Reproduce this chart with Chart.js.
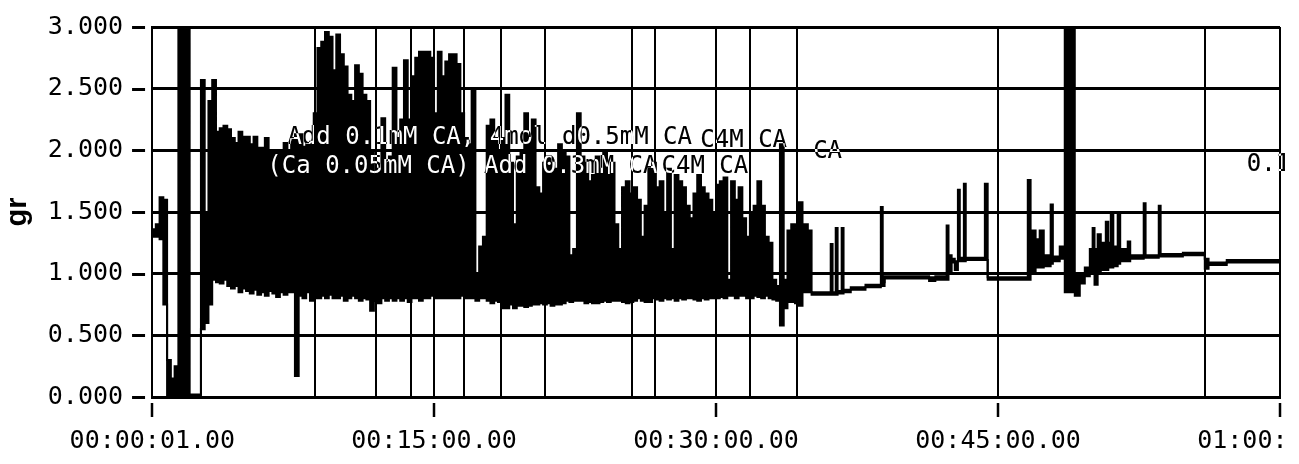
<!DOCTYPE html>
<html>
<head>
<meta charset="utf-8">
<title>gr trace</title>
<style>
  html, body { margin: 0; padding: 0; background: #fff; }
  #wrap { width: 1285px; height: 464px; position: relative; }
</style>
</head>
<body>
<div id="wrap"><canvas id="trace"></canvas></div>
<script src="https://cdn.jsdelivr.net/npm/chart.js@4/dist/chart.umd.min.js"></script>
<script>
// Force trace (gr). First part read as 12 s min/max bins, the quiet tail as breakpoints.
const binSeconds = 12;
const binLo = [
  1.30, 1.30, 1.28, 0.75, 0, 0, 0, 0, 0, 0,
  0, 0, 0, 0.55, 0.60, 0.75, 0.95, 0.93, 0.92, 0.95,
  0.90, 0.88, 0.90, 0.85, 0.88, 0.86, 0.84, 0.87, 0.83, 0.85,
  0.82, 0.86, 0.84, 0.81, 0.85, 0.83, 0.85, 0.85, 0.17, 0.82,
  0.80, 0.85, 0.78, 0.80, 0.80, 0.82, 0.80, 0.83, 0.80, 0.80,
  0.82, 0.78, 0.80, 0.82, 0.80, 0.78, 0.80, 0.79, 0.70, 0.78,
  0.76, 0.80, 0.78, 0.80, 0.78, 0.80, 0.78, 0.80, 0.77, 0.80,
  0.80, 0.78, 0.80, 0.80, 0.82, 0.80, 0.80, 0.80, 0.80, 0.80,
  0.80, 0.80, 0.82, 0.80, 0.80, 0.80, 0.78, 0.80, 0.80, 0.78,
  0.76, 0.78, 0.77, 0.72, 0.72, 0.75, 0.72, 0.74, 0.74, 0.73,
  0.74, 0.75, 0.75, 0.76, 0.75, 0.76, 0.74, 0.75, 0.75, 0.76,
  0.78, 0.77, 0.78, 0.78, 0.78, 0.76, 0.77, 0.76, 0.76, 0.77,
  0.78, 0.77, 0.78, 0.78, 0.78, 0.77, 0.76, 0.77, 0.78, 0.80,
  0.78, 0.77, 0.77, 0.80, 0.79, 0.78, 0.80, 0.79, 0.80, 0.78,
  0.80, 0.79, 0.80, 0.80, 0.79, 0.78, 0.80, 0.79, 0.80, 0.80,
  0.80, 0.81, 0.80, 0.82, 0.82, 0.80, 0.82, 0.82, 0.80, 0.80,
  0.82, 0.81, 0.80, 0.82, 0.80, 0.79, 0.78, 0.58, 0.72, 0.77,
  0.77, 0.76
];
const binHi = [
  1.36, 1.40, 1.62, 1.60, 0.30, 0.15, 0.25, 3.00, 3.00, 3.00,
  0.02, 0.02, 0.02, 2.57, 1.50, 2.40, 2.57, 2.15, 2.18, 2.20,
  2.17, 2.10, 2.06, 2.15, 2.11, 2.11, 2.05, 2.11, 2.02, 2.02,
  2.10, 2.00, 2.00, 2.00, 2.00, 2.06, 2.00, 2.09, 2.13, 2.13,
  2.03, 2.05, 2.07, 2.30, 2.83, 2.88, 2.96, 2.92, 2.65, 2.94,
  2.78, 2.68, 2.45, 2.40, 2.69, 2.62, 2.45, 2.40, 2.00, 1.80,
  1.85, 2.26, 1.90, 1.95, 2.67, 2.10, 2.25, 2.73, 2.25, 2.60,
  2.75, 2.80, 2.80, 2.80, 2.75, 2.30, 2.80, 2.60, 2.72, 2.78,
  2.78, 2.70, 2.30, 2.10, 2.05, 2.50, 1.00, 1.22, 1.30, 2.20,
  2.25, 2.10, 2.00, 2.10, 2.45, 1.90, 1.40, 1.95, 2.00, 2.30,
  2.10, 2.25, 1.70, 1.65, 1.90, 1.95, 1.90, 1.85, 2.05, 2.00,
  1.95, 1.15, 1.20, 2.30, 1.95, 1.90, 1.75, 1.80, 1.95, 1.85,
  2.00, 1.80, 1.90, 1.40, 1.20, 1.70, 1.75, 1.65, 1.70, 1.60,
  1.30, 1.55, 1.85, 1.90, 1.70, 1.75, 1.50, 1.85, 1.20, 1.80,
  1.75, 1.70, 1.55, 1.45, 1.65, 1.80, 1.70, 1.65, 1.60, 1.50,
  1.72, 1.75, 1.78, 0.95, 1.75, 1.60, 1.70, 1.45, 1.30, 1.50,
  1.55, 1.75, 1.55, 1.30, 1.25, 0.95, 0.90, 2.05, 0.95, 1.35,
  1.40, 1.35
];
const tailT = [
  2064, 2076, 2093, 2105, 2166, 2172, 2182, 2188, 2201, 2207,
  2230, 2277, 2326, 2332, 2338, 2450, 2480, 2500, 2536, 2542,
  2552, 2562, 2572, 2578, 2591, 2597, 2658, 2667, 2795, 2804,
  2820, 2833, 2846, 2868, 2875, 2897, 2913, 2945, 2961, 2977,
  2993, 3002, 3008, 3018, 3028, 3044, 3052, 3060, 3068, 3082,
  3090, 3114, 3122, 3165, 3171, 3213, 3219, 3290, 3360, 3372,
  3430, 3600
];
const tailLo = [
  0.74, 0.85, 0.85, 0.83, 0.83, 0.83, 0.83, 0.84, 0.84, 0.85,
  0.87, 0.89, 0.90, 0.90, 0.96, 0.96, 0.94, 0.95, 0.95, 1.00,
  1.09, 1.03, 1.10, 1.10, 1.10, 1.11, 1.11, 0.95, 0.95, 1.00,
  1.05, 1.05, 1.06, 1.08, 1.10, 1.12, 0.85, 0.82, 0.92, 0.98,
  1.00, 1.00, 0.91, 1.02, 1.03, 1.03, 1.05, 1.05, 1.06, 1.08,
  1.10, 1.10, 1.12, 1.13, 1.13, 1.14, 1.14, 1.15, 1.04, 1.07,
  1.09, 1.09
];
const tailHi = [
  1.58, 1.40, 1.35, 0.85, 1.24, 0.85, 1.37, 0.86, 1.37, 0.87,
  0.89, 0.91, 1.54, 0.93, 0.98, 0.98, 0.97, 0.98, 1.39, 1.15,
  1.12, 1.10, 1.68, 1.13, 1.73, 1.13, 1.73, 0.97, 1.76, 1.35,
  1.28, 1.35, 1.15, 1.56, 1.14, 1.22, 3.00, 1.00, 1.00, 1.05,
  1.20, 1.37, 1.20, 1.32, 1.25, 1.42, 1.25, 1.50, 1.22, 1.50,
  1.20, 1.26, 1.15, 1.57, 1.15, 1.55, 1.16, 1.17, 1.12, 1.09,
  1.11, 1.11
];

const xTicks = [1, 900, 1800, 2700, 3600];
const xTickLabels = ["00:00:01.00", "00:15:00.00", "00:30:00.00", "00:45:00.00", "01:00:00.00"];
const yTicks = [0, 0.5, 1, 1.5, 2, 2.5, 3];
// comment markers (s) and their texts
const markerT = [521, 716, 825, 997, 1115, 1253, 1531, 1604, 1908, 2060, 3360];
const commentT = [432, 1750, 2110, 368, 1626, 3494];
const commentV = [2.10, 2.08, 1.99, 1.87, 1.87, 1.88];
const commentText = [
  "Add 0.1mM CA, 4mol d0.5mM CA",
  "C4M CA",
  "CA",
  "(Ca 0.05mM CA) Add 0.3mM CA",
  "C4M CA",
  "0.1mM CA"
];

const mono = { family: "'DejaVu Sans Mono', monospace", size: 25 };

function buildSeries(bins, tail) {
  const pts = bins.map((v, i) => ({ x: i * binSeconds, y: v }));
  tailT.forEach((t, i) => pts.push({ x: t, y: tail[i] }));
  return pts;
}

const paper = {
  id: "paper",
  beforeDraw(chart) {
    const { ctx, width, height } = chart;
    ctx.save();
    ctx.fillStyle = "#fff";
    ctx.fillRect(0, 0, width, height);
    ctx.restore();
  }
};

const markers = {
  id: "markers",
  beforeDatasetsDraw(chart) {
    const { ctx, chartArea, scales } = chart;
    ctx.save();
    ctx.strokeStyle = "#000";
    ctx.lineWidth = 2;
    markerT.forEach(t => {
      const x = Math.round(scales.x.getPixelForValue(t));
      ctx.beginPath();
      ctx.moveTo(x, chartArea.top);
      ctx.lineTo(x, chartArea.bottom);
      ctx.stroke();
    });
    ctx.restore();
  },
  afterDraw(chart) {
    // short tick marks, set off from the frame
    const { ctx, chartArea, scales } = chart;
    ctx.save();
    ctx.strokeStyle = "#000";
    ctx.lineWidth = 3;
    yTicks.forEach(v => {
      const y = Math.round(scales.y.getPixelForValue(v)) + 0.5;
      ctx.beginPath();
      ctx.moveTo(chartArea.left - 20, y);
      ctx.lineTo(chartArea.left - 7, y);
      ctx.stroke();
    });
    ctx.lineWidth = 2.5;
    xTicks.forEach(t => {
      const x = Math.round(scales.x.getPixelForValue(t));
      ctx.beginPath();
      ctx.moveTo(x, chartArea.bottom + 6);
      ctx.lineTo(x, chartArea.bottom + 20);
      ctx.stroke();
    });
    ctx.restore();
  }
};

const comments = {
  id: "comments",
  afterDraw(chart) {
    const { ctx, scales } = chart;
    ctx.save();
    ctx.globalCompositeOperation = "difference";
    ctx.fillStyle = "#fff";
    ctx.font = "24px 'DejaVu Sans Mono', monospace";
    ctx.textBaseline = "middle";
    ctx.textAlign = "left";
    commentText.forEach((txt, i) => {
      ctx.fillText(txt, scales.x.getPixelForValue(commentT[i]), scales.y.getPixelForValue(commentV[i]));
    });
    ctx.restore();
  }
};

new Chart(document.getElementById("trace"), {
  type: "line",
  data: {
    datasets: [
      {
        label: "max",
        data: buildSeries(binHi, tailHi),
        borderColor: "#000",
        backgroundColor: "#000",
        borderWidth: 2,
        pointRadius: 0,
        stepped: true,
        fill: "+1"
      },
      {
        label: "min",
        data: buildSeries(binLo, tailLo),
        borderColor: "#000",
        borderWidth: 2,
        pointRadius: 0,
        stepped: true,
        fill: false
      }
    ]
  },
  options: {
    responsive: true,
    maintainAspectRatio: false,
    animation: false,
    events: [],
    layout: { padding: { left: 0, right: 5, top: 18, bottom: 1 } },
    plugins: { legend: { display: false }, tooltip: { enabled: false } },
    scales: {
      x: {
        type: "linear",
        min: 0,
        max: 3600,
        afterBuildTicks: s => { s.ticks = xTicks.map(v => ({ value: v })); },
        afterFit: s => { s.paddingLeft = 0; s.paddingRight = 0; },
        ticks: {
          autoSkip: false,
          maxRotation: 0,
          padding: 7,
          color: "#000",
          font: mono,
          callback: (v, i) => xTickLabels[i]
        },
        grid: { color: "#000", lineWidth: 2, tickLength: 22, tickColor: "rgba(0,0,0,0)" },
        border: { color: "#000", width: 3 }
      },
      y: {
        min: 0,
        max: 3,
        afterBuildTicks: s => { s.ticks = yTicks.map(v => ({ value: v })); },
        ticks: {
          padding: 12,
          color: "#000",
          font: mono,
          callback: v => v.toFixed(3)
        },
        grid: { color: "#000", lineWidth: 3, tickLength: 17, tickColor: "rgba(0,0,0,0)" },
        border: { color: "#000", width: 2 },
        title: {
          display: true,
          text: "gr",
          color: "#000",
          font: { family: "'Liberation Sans', Arial, sans-serif", size: 29, weight: "bold" },
          padding: { top: 1, bottom: 0 }
        }
      }
    }
  },
  plugins: [paper, markers, comments]
});
</script>
</body>
</html>
